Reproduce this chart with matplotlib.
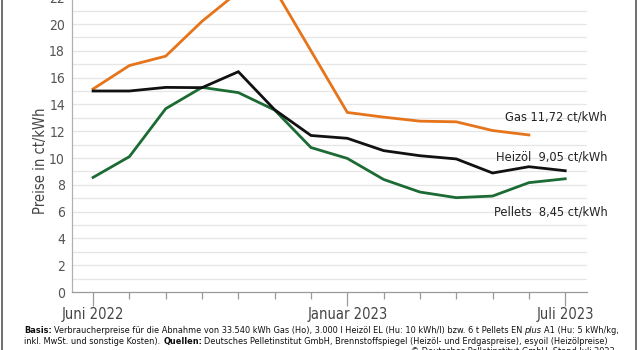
import numpy as np
import matplotlib
matplotlib.use("Agg")
import matplotlib.pyplot as plt
from matplotlib import font_manager as fm
from matplotlib.font_manager import FontProperties, get_font

# ---------------- data ----------------
months = ["Jun 22", "Jul 22", "Aug 22", "Sep 22", "Okt 22", "Nov 22", "Dez 22",
          "Jan 23", "Feb 23", "Mär 23", "Apr 23", "Mai 23", "Jun 23", "Jul 23"]
major_labels = {0: "Juni 2022", 7: "Januar 2023", 13: "Juli 2023"}
gas = [15.15, 16.9, 17.6, 20.2, 22.4, 22.6, 18.0, 13.4, 13.05, 12.75, 12.7, 12.05, 11.72, np.nan]
heizoel = [15.0, 15.0, 15.27, 15.25, 16.44, 13.6, 11.68, 11.47, 10.55, 10.17, 9.93, 8.88, 9.35, 9.05]
pellets = [8.55, 10.1, 13.68, 15.27, 14.88, 13.58, 10.78, 9.97, 8.4, 7.46, 7.04, 7.16, 8.16, 8.45]
yticks = list(range(0, 25, 2))

# ---------------- fonts ----------------
def find_font(weight="normal", style="normal"):
    entries = fm.fontManager.ttflist
    def pick(cond):
        cands = [e for e in entries if cond(e)]
        def score(e):
            w = e.weight if isinstance(e.weight, int) else (700 if "bold" in str(e.weight) else 400)
            tw = 700 if weight == "bold" else 400
            return abs(w - tw) + (0 if e.style == style else 1000)
        cands.sort(key=score)
        return cands[0].fname if cands else None
    f = pick(lambda e: e.name == "Liberation Sans Narrow")
    if f:
        return f
    f = pick(lambda e: e.name == "DejaVu Sans" and "ondensed" in e.fname)
    if f:
        return f
    return pick(lambda e: e.name == "DejaVu Sans")

F_REG = find_font()
F_BOLD = find_font("bold")
F_IT = find_font("normal", "italic")
FNAMES = {"reg": F_REG, "bold": F_BOLD, "it": F_IT}

def fp(size, kind="reg"):
    return FontProperties(fname=FNAMES[kind], size=size)

# ---------------- figure ----------------
W, H = 640, 350
DPI = 100
fig = plt.figure(figsize=(W / DPI, H / DPI), dpi=DPI)
fig.patch.set_facecolor("white")

px_per_unit = 13.4
ymax = 24
left_px, right_px, bottom_px = 72, 587, 350 - 292
ax = fig.add_axes([left_px / W, bottom_px / H, (right_px - left_px) / W, ymax * px_per_unit / H])

x = np.arange(len(months))
ax.plot(x, gas, color="#E5741B", lw=2.0, solid_joinstyle="miter", zorder=3)
ax.plot(x, heizoel, color="#111111", lw=2.0, solid_joinstyle="miter", zorder=4)
ax.plot(x, pellets, color="#1C6A34", lw=2.0, solid_joinstyle="miter", zorder=3)

ax.set_xlim(-0.58, 13.6)
ax.set_ylim(0, ymax)

# grid every unit
for v in range(1, ymax + 1):
    ax.axhline(v, color="#e6e6e6", lw=0.9, zorder=1)

for s in ["top", "right"]:
    ax.spines[s].set_visible(False)
ax.spines["left"].set_color("#b0b0b0")
ax.spines["bottom"].set_color("#9a9a9a")
ax.spines["left"].set_linewidth(0.9)
ax.spines["bottom"].set_linewidth(0.9)

ax.set_yticks(yticks)
ax.set_yticklabels([str(t) for t in yticks])
for lab in ax.get_yticklabels():
    lab.set_fontproperties(fp(10))
    lab.set_color("#555555")
ax.tick_params(axis="y", length=0, pad=5)

major_pos = list(major_labels.keys())
ax.set_xticks(major_pos)
ax.set_xticklabels([major_labels[k] for k in major_pos])
for lab in ax.get_xticklabels():
    lab.set_fontproperties(fp(10.5))
    lab.set_color("#444444")
ax.set_xticks([i for i in x if i not in major_pos], minor=True)
ax.tick_params(axis="x", which="major", length=10, width=0.9, color="#9a9a9a", pad=1)
ax.tick_params(axis="x", which="minor", length=5, width=0.9, color="#9a9a9a")

ax.set_facecolor("none")

fig.text(40 / W, 1 - 161 / H, "Preise in ct/kWh", rotation=90, ha="center", va="center",
         fontproperties=fp(10.5), color="#444444")

# end labels
def fmt(v):
    return f"{v:.2f}".replace(".", ",")

lbl_x = 14.16
lbl_size = 9.2
ax.text(lbl_x, 13.06, f"Gas {fmt(gas[-2])} ct/kWh", ha="right", va="center",
        fontproperties=fp(lbl_size), color="#222222", clip_on=False)
ax.text(lbl_x, 10.07, f"Heizöl  {fmt(heizoel[-1])} ct/kWh", ha="right", va="center",
        fontproperties=fp(lbl_size), color="#222222", clip_on=False)
ax.text(lbl_x, 5.97, f"Pellets  {fmt(pellets[-1])} ct/kWh", ha="right", va="center",
        fontproperties=fp(lbl_size), color="#222222", clip_on=False)

# footnote with mixed styles, positioned by glyph advances
FOOT = 6.55

def adv_width(txt, kind, size):
    f = get_font(FNAMES[kind])
    f.set_size(size, DPI)
    total = 0.0
    for c in txt:
        g = f.load_char(ord(c))
        total += g.linearHoriAdvance / 65536.0
    return total

def rich_line(x0_px, y_px, parts, size=FOOT):
    xp = x0_px
    for txt, kind in parts:
        lead = len(txt) - len(txt.lstrip(" "))
        if lead:
            xp += adv_width(txt[:lead], kind, size)
        core = txt.lstrip(" ")
        fig.text(xp / W, 1 - y_px / H, core.rstrip(" "), ha="left", va="baseline",
                 fontproperties=fp(size, kind), color="#111111")
        xp += adv_width(core, kind, size)
    return xp

rich_line(24, 333, [("Basis:", "bold"),
                    (" Verbraucherpreise für die Abnahme von 33.540 kWh Gas (Ho), 3.000 l Heizöl EL (Hu: 10 kWh/l) bzw. 6 t Pellets EN", "reg"),
                    ("plus", "it"),
                    (" A1 (Hu: 5 kWh/kg,", "reg")])
rich_line(24, 344, [("inkl. MwSt. und sonstige Kosten). ", "reg"),
                    ("Quellen:", "bold"),
                    (" Deutsches Pelletinstitut GmbH, Brennstoffspiegel (Heizöl- und Erdgaspreise), esyoil (Heizölpreise)", "reg")])
fig.text(615 / W, 1 - 352 / H, "© Deutsches Pelletinstitut GmbH, Stand Juli 2023", ha="right", va="center",
         fontproperties=fp(FOOT), color="#111111")

# frame lines at image edges
fig.add_artist(plt.Line2D([1.5 / W, 1.5 / W], [0, 1], color="#555555", lw=1.2, transform=fig.transFigure))
fig.add_artist(plt.Line2D([635.5 / W, 635.5 / W], [0, 1], color="#555555", lw=1.2, transform=fig.transFigure))

fig.savefig("out.png", dpi=DPI, facecolor="white")
